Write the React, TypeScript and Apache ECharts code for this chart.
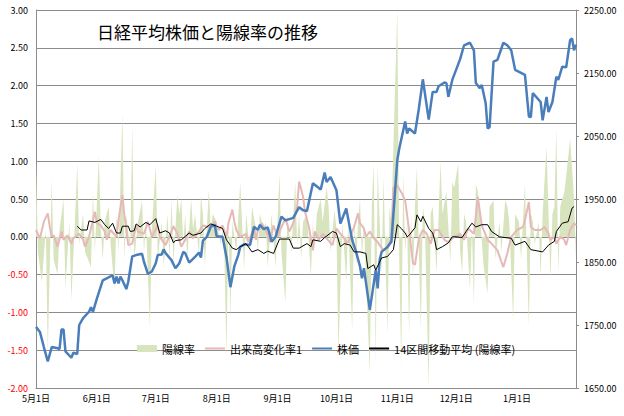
import React, { useEffect, useRef } from "react";
import * as echarts from "echarts";

// x positions are calendar-day offsets from 5月1日
const monthTicks = [0, 31, 61, 92, 123, 153, 184, 214, 245];
const monthLabels = ["5月1日", "6月1日", "7月1日", "8月1日", "9月1日", "10月1日", "11月1日", "12月1日", "1月1日"];
const rightTicks = [1650, 1750, 1850, 1950, 2050, 2150, 2250];

// 陽線率 (day, value)
const ratioData = [
  [0, 1.0], [1, -0.2], [3, -0.6], [5, 0.1], [6, -1.55], [8, 0.75], [9, -0.3], [11, -0.5], [12, 0.1], [14, 0.5],
  [15, -0.68], [17, 0.2], [18, -0.84], [20, 0.3], [21, 0.97], [22, -0.1], [24, 0.3], [25, -0.2], [28, -0.4], [29, 0.6],
  [30, -0.2], [32, 1.08], [33, 0.1], [34, -0.3], [35, 0.2], [37, 0.4], [38, -0.1], [40, -0.7], [41, 0.3], [42, -0.2],
  [44, 1.63], [45, -0.3], [46, 0.3], [48, -0.2], [49, 1.48], [50, -0.3], [52, 0.2], [54, 0.48], [55, -0.2], [56, 0.2],
  [58, -1.2], [59, 0.1], [61, 0.95], [62, -0.3], [64, 0.2], [65, -0.4], [67, 0.3], [68, -0.3], [69, 0.5], [70, -0.35],
  [72, 0.55], [73, 0.3], [74, 0.5], [75, -0.1], [76, 0.3], [77, -0.3], [79, 0.5], [80, 0.1], [81, 0.3], [83, -0.25],
  [84, 0.55], [85, 0.3], [86, -0.4], [88, 0.62], [89, 0.1], [90, 0.3], [92, 0.2], [94, -0.1], [95, 0.1], [96, -0.3],
  [97, -1.59], [98, 0.3], [99, -1.1], [100, 0.2], [102, -0.2], [104, 0.72], [106, -0.44], [107, 0.3], [109, -0.2], [110, 0.4],
  [112, 0.1], [113, -0.18], [114, 0.3], [116, 0.1], [117, 0.2], [118, -0.4], [120, 0.3], [122, -0.4], [124, 0.84], [125, -0.2],
  [127, -0.88], [128, 0.3], [130, -0.2], [132, 0.72], [133, -0.1], [134, 0.3], [135, -0.3], [136, 0.2], [138, 0.3], [140, -0.53],
  [141, 0.2], [142, -0.18], [143, 0.3], [145, 0.5], [146, 0.2], [148, 0.66], [149, 0.4], [150, -0.2], [152, 0.35], [153, 0.1],
  [154, -1.55], [156, 0.2], [158, -0.6], [159, 0.2], [161, -1.23], [162, 0.2], [163, -0.4], [164, 0.2], [165, 0.5], [166, -0.3],
  [167, 0.2], [168, -0.5], [170, -1.8], [171, 0.4], [172, 0.97], [173, -1.7], [174, 0.93], [175, 0.2], [176, -0.5], [177, 0.8],
  [178, -0.3], [179, -1.3], [180, 0.4], [181, 0.2], [182, 1.2], [184, 3.0], [185, -0.3], [186, -1.7], [187, 0.84], [188, -0.2],
  [189, 0.2], [190, -1.32], [191, 0.3], [192, -0.57], [193, 0.4], [194, 0.92], [195, -0.2], [196, -1.23], [197, 0.4], [198, 0.2],
  [200, -2.0], [201, 0.3], [202, 0.4], [204, -0.48], [206, 1.0], [207, 0.3], [209, 0.6], [211, -0.35], [212, 0.72], [213, 0.65],
  [215, 0.97], [216, -0.2], [217, -0.48], [218, 0.3], [219, 0.2], [221, -0.7], [222, 0.1], [223, -0.9], [224, 0.7], [225, 0.6],
  [226, 0.3], [228, -0.4], [230, -0.75], [231, 0.4], [233, 0.48], [234, -0.3], [236, 0.2], [237, -0.2], [239, 0.49], [240, 0.4],
  [241, 0.2], [243, -1.1], [244, 0.3], [246, 0.2], [247, -0.3], [249, 0.7], [251, -1.19], [252, 0.3], [253, 0.2], [254, -0.1],
  [256, 0.2], [257, -0.53], [258, 0.3], [260, 1.19], [262, -0.57], [263, 0.3], [264, 0.4], [265, 1.44], [266, -0.48], [267, 0.4],
  [268, 0.5], [269, 0.58], [270, 0.8], [272, 1.3], [273, 0.9], [274, 0.5], [275, -0.31],
];

// 出来高変化率1 (day, value)
const volumeData = [
  [0, 0.09], [2, -0.02], [4, 0.2], [6, 0.31], [7, 0.13], [8, 0], [9, 0.02], [11, -0.13], [13, 0.07], [14, -0.04],
  [16, 0.02], [18, -0.09], [19, -0.02], [22, 0.04], [24, -0.04], [25, -0.13], [27, 0], [30, 0.33], [31, 0.18], [33, 0.15],
  [35, 0.07], [36, -0.04], [38, 0.09], [41, 0], [42, 0.22], [44, 0.55], [45, 0.29], [47, -0.11], [49, -0.09], [51, 0.15],
  [52, 0.07], [55, 0.04], [57, 0.2], [59, 0], [62, 0.15], [63, 0], [66, -0.11], [69, 0.07], [70, 0.14], [72, 0.04],
  [74, -0.13], [76, -0.04], [78, 0.07], [80, -0.02], [83, 0.07], [85, 0.15], [88, 0.13], [91, 0.2], [93, 0.09], [95, 0.15],
  [97, 0], [98, 0.18], [100, 0.36], [101, 0.2], [102, 0.09], [104, 0], [107, 0.04], [108, -0.07], [111, 0.11], [112, -0.04],
  [113, 0.09], [115, 0.18], [117, 0.09], [119, -0.07], [121, 0.15], [123, 0], [125, 0.13], [127, 0.24], [129, 0.07], [131, 0.18],
  [133, 0.4], [134, 0.73], [136, 0.53], [137, 0.33], [139, 0.13], [141, -0.18], [142, 0.07], [144, -0.04], [146, 0.04], [148, -0.02],
  [151, -0.11], [153, 0.11], [155, 0.04], [157, -0.02], [158, -0.07], [159, -0.07], [162, 0.13], [164, 0.31], [165, 0.18], [167, 0.11],
  [168, 0], [170, 0.07], [172, -0.02], [174, -0.07], [175, -0.11], [177, -0.18], [179, -0.15], [181, 0], [182, 0.65], [184, 0.68],
  [186, 0.59], [188, 0.48], [190, 0.09], [192, -0.35], [193, -0.37], [195, -0.02], [197, 0.09], [199, 0.04], [201, -0.09], [203, 0.09],
  [205, 0.09], [208, -0.04], [210, -0.07], [213, 0], [216, 0.04], [218, -0.04], [220, 0.11], [223, 0.04], [225, 0.53], [227, 0.15],
  [230, -0.04], [232, -0.09], [235, -0.18], [237, -0.33], [238, -0.4], [240, -0.22], [242, 0], [245, 0.09], [248, 0.13], [249, 0.22],
  [251, 0.46], [252, 0.13], [254, 0.09], [257, 0.09], [259, 0.13], [261, 0.04], [262, -0.04], [264, 0], [265, -0.09], [267, 0],
  [269, -0.04], [270, -0.11], [272, 0.09], [274, 0.18], [275, 0.15],
];

// 株価 (day, value) on the right axis
const priceData = [
  [0, 1747], [2, 1739], [4, 1715], [6, 1692], [8, 1715], [11, 1713], [12, 1712], [13, 1743], [14, 1743], [15, 1708],
  [18, 1698], [19, 1706], [21, 1704], [22, 1750], [24, 1761], [27, 1771], [28, 1778], [29, 1771], [31, 1792], [34, 1821],
  [36, 1824], [39, 1829], [40, 1816], [41, 1827], [42, 1816], [43, 1827], [44, 1821], [46, 1807], [47, 1819], [49, 1859],
  [51, 1861], [54, 1863], [55, 1850], [57, 1831], [59, 1835], [61, 1848], [62, 1861], [64, 1862], [65, 1870], [66, 1864],
  [69, 1853], [71, 1840], [73, 1848], [75, 1866], [76, 1864], [78, 1849], [81, 1858], [83, 1865], [84, 1857], [85, 1884],
  [87, 1890], [89, 1906], [91, 1909], [92, 1891], [95, 1890], [97, 1858], [99, 1810], [101, 1843], [103, 1861], [104, 1874],
  [106, 1878], [109, 1877], [110, 1891], [111, 1906], [113, 1901], [114, 1909], [116, 1902], [118, 1905], [120, 1882], [122, 1890],
  [125, 1922], [127, 1916], [131, 1920], [134, 1937], [136, 1932], [138, 1931], [141, 1975], [145, 1965], [147, 1992], [148, 1977],
  [150, 1985], [153, 1964], [155, 1911], [158, 1935], [161, 1885], [163, 1866], [165, 1843], [166, 1824], [167, 1840], [170, 1774],
  [173, 1837], [174, 1808], [175, 1853], [176, 1866], [179, 1874], [181, 1882], [184, 2012], [185, 2030], [188, 2073], [189, 2054],
  [190, 2062], [193, 2054], [195, 2094], [197, 2140], [200, 2076], [202, 2120], [204, 2120], [205, 2129], [208, 2135], [209, 2134],
  [210, 2112], [212, 2139], [216, 2172], [218, 2194], [221, 2198], [223, 2186], [224, 2134], [226, 2126], [227, 2131], [229, 2102],
  [230, 2062], [231, 2064], [233, 2168], [235, 2171], [238, 2198], [240, 2194], [242, 2186], [244, 2155], [249, 2147], [251, 2081],
  [252, 2080], [253, 2118], [257, 2104], [258, 2075], [260, 2112], [261, 2088], [263, 2104], [265, 2144], [266, 2139], [268, 2160],
  [270, 2159], [272, 2202], [273, 2205], [274, 2186], [275, 2195],
];

// 14区間移動平均 (陽線率) (day, value)
const maData = [
  [21, 0.14], [23, 0.09], [26, 0.09], [27, 0.21], [30, 0.19], [33, 0.23], [35, 0.16], [37, 0.11], [39, 0.18], [41, 0.05],
  [43, 0.05], [44, 0.14], [47, 0.14], [48, 0.07], [50, 0.08], [51, 0.17], [53, 0.13], [56, 0.19], [58, 0.16], [61, 0.24],
  [63, 0.05], [66, 0.08], [68, 0.05], [70, -0.08], [71, -0.05], [74, -0.04], [78, 0.05], [80, 0.02], [84, 0.05], [86, 0.11],
  [89, 0.17], [92, 0.14], [95, 0.11], [97, -0.04], [100, -0.15], [102, -0.17], [104, -0.13], [107, -0.09], [110, -0.2], [113, -0.17],
  [116, -0.22], [118, -0.19], [121, -0.22], [124, -0.03], [129, -0.03], [131, -0.15], [134, -0.15], [138, -0.09], [140, -0.13], [141, -0.04],
  [145, -0.06], [147, -0.01], [151, 0.07], [153, 0.05], [155, -0.13], [157, -0.09], [160, -0.11], [162, -0.2], [165, -0.2], [168, -0.22],
  [169, -0.42], [172, -0.37], [173, -0.44], [176, -0.28], [179, -0.26], [182, -0.17], [184, 0.16], [186, 0.11], [188, 0.05], [189, 0.0],
  [190, 0.02], [193, 0.12], [194, 0.29], [196, 0.2], [197, 0.27], [200, 0.11], [202, 0.05], [203, -0.04], [204, -0.17], [207, -0.13],
  [210, -0.08], [212, 0.0], [214, 0.0], [217, -0.01], [219, 0.07], [222, 0.18], [224, 0.13], [227, 0.16], [230, 0.16], [232, 0.07],
  [236, 0.0], [242, -0.02], [244, -0.11], [249, -0.06], [252, -0.17], [258, -0.2], [261, -0.11], [264, -0.06], [265, 0.07], [268, 0.18],
  [271, 0.2], [273, 0.38], [274, 0.4],
];

const FONT = '"Noto Sans CJK JP", "Noto Sans", sans-serif';
const GRID_COLOR = "#8c8c8c";
const GREEN = "#d7e4bd";
const PINK = "#e6b9b8";
const BLUE = "#4a7ebb";

export default function App() {
  const ref = useRef<HTMLDivElement>(null);

  useEffect(() => {
    if (!ref.current) return;
    const chart = echarts.init(ref.current, undefined, { renderer: "svg" });
    chart.setOption({
      animation: false,
      backgroundColor: "#ffffff",
      textStyle: { fontFamily: FONT },
      title: {
        text: "日経平均株価と陽線率の推移",
        left: 97,
        top: 23,
        padding: 0,
        textStyle: { fontSize: 17, fontWeight: "normal", color: "#000", fontFamily: FONT },
      },
      legend: {
        left: 137,
        top: 343,
        padding: 0,
        itemWidth: 20,
        itemHeight: 7,
        itemGap: 9,
        selectedMode: false,
        itemStyle: { color: "transparent", borderWidth: 0 },
        textStyle: { fontSize: 11, color: "#000", fontFamily: FONT },
        data: [
          { name: "陽線率", icon: "rect", itemStyle: { color: GREEN, borderWidth: 0 } },
          { name: "出来高変化率1" },
          { name: "株価" },
          { name: "14区間移動平均 (陽線率)" },
        ],
      },
      grid: { left: 36, right: 48, top: 10, bottom: 28, containLabel: false },
      xAxis: {
        type: "value",
        min: 0,
        max: 275,
        axisLine: { show: true, onZero: false, lineStyle: { color: GRID_COLOR, width: 1 } },
        axisTick: { show: false },
        splitLine: { show: false },
        axisLabel: {
          customValues: monthTicks,
          fontSize: 9,
          color: "#000",
          margin: 6,
          fontFamily: FONT,
          formatter: (v: number) => {
            const i = monthTicks.indexOf(Math.round(v));
            return i >= 0 ? monthLabels[i] : "";
          },
        },
      },
      yAxis: [
        {
          type: "value",
          min: -2,
          max: 3,
          interval: 0.5,
          axisLine: { show: true, lineStyle: { color: GRID_COLOR, width: 1 } },
          axisTick: { show: false },
          splitLine: { show: true, lineStyle: { color: GRID_COLOR, width: 1 } },
          axisLabel: {
            fontSize: 9,
            margin: 8,
            fontFamily: FONT,
            formatter: (v: number) => Number(v).toFixed(2),
            color: (v: any) => (Number(v) < 0 ? "#ff0000" : "#000000"),
          },
        },
        {
          type: "value",
          min: 1650,
          max: 2250,
          position: "right",
          axisLine: { show: true, lineStyle: { color: GRID_COLOR, width: 1 } },
          axisTick: { show: true, length: 3, customValues: rightTicks, lineStyle: { color: GRID_COLOR } },
          splitLine: { show: false },
          axisLabel: {
            customValues: rightTicks,
            fontSize: 9,
            margin: 8,
            color: "#000",
            fontFamily: FONT,
            formatter: (v: number) => Number(v).toFixed(2),
          },
        },
      ],
      series: [
        {
          name: "陽線率",
          type: "line",
          data: ratioData,
          symbol: "none",
          z: 1,
          itemStyle: { color: GREEN },
          lineStyle: { color: GREEN, width: 0 },
          areaStyle: { color: GREEN, opacity: 1 },
        },
        {
          name: "出来高変化率1",
          type: "line",
          data: volumeData,
          symbol: "none",
          z: 2,
          itemStyle: { color: PINK },
          lineStyle: { color: PINK, width: 2 },
        },
        {
          name: "株価",
          type: "line",
          yAxisIndex: 1,
          data: priceData,
          symbol: "none",
          z: 3,
          itemStyle: { color: BLUE },
          lineStyle: { color: BLUE, width: 2.5 },
        },
        {
          name: "14区間移動平均 (陽線率)",
          type: "line",
          data: maData,
          symbol: "none",
          z: 4,
          itemStyle: { color: "#000" },
          lineStyle: { color: "#000", width: 1 },
        },
      ],
    });
    return () => chart.dispose();
  }, []);

  return (
    <div
      ref={ref}
      style={{ position: "fixed", left: 0, top: 0, width: 624, height: 416, background: "#fff" }}
    />
  );
}
